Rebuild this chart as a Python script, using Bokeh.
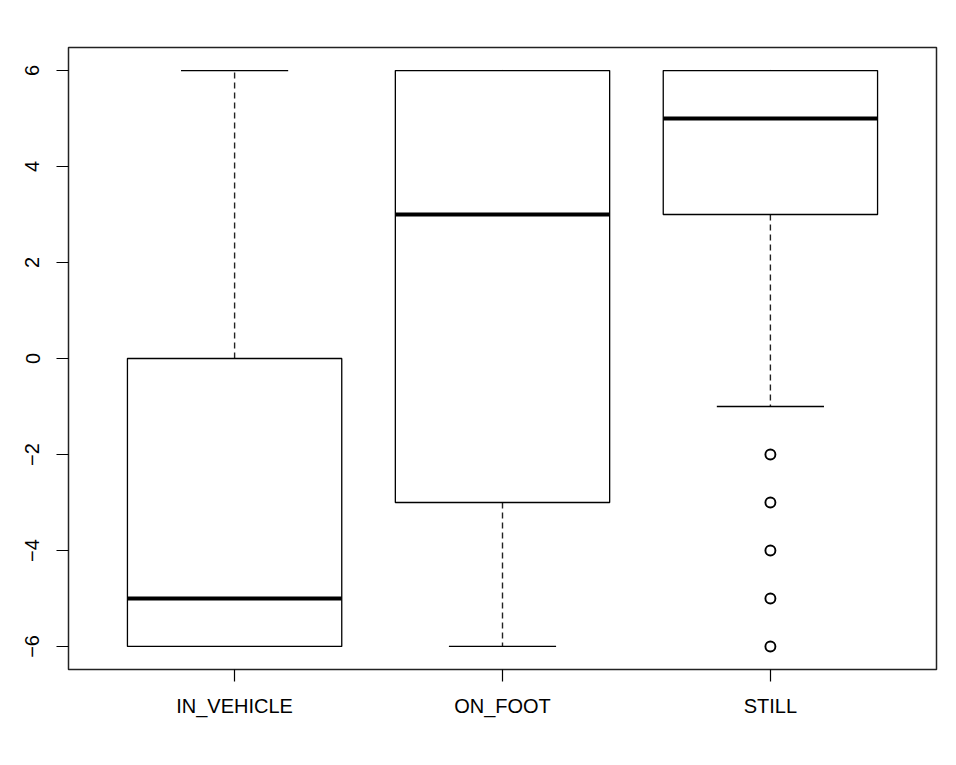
from bokeh.plotting import figure
from bokeh.models import Range1d, FixedTicker
from bokeh.embed import file_html
from bokeh.resources import INLINE

categories = ["IN_VEHICLE", "ON_FOOT", "STILL"]
lower = [-6, -6, -1]
q1 = [-6, -3, 3]
median = [-5, 3, 5]
q3 = [0, 6, 6]
upper = [6, 6, 6]
outlier_cat = ["STILL", "STILL", "STILL", "STILL", "STILL"]
outlier_values = [-2, -3, -4, -5, -6]
y_ticks = [-6, -4, -2, 0, 2, 4, 6]

pos = [i + 1 for i in range(len(categories))]
opos = [categories.index(c) + 1 for c in outlier_cat]
half_box = 0.4
half_cap = 0.2

p = figure(width=956, height=765, output_backend="svg", toolbar_location=None,
           x_range=Range1d(0.38, 3.62), y_range=Range1d(-6.48, 6.48),
           min_border_left=68, min_border_right=20, min_border_top=47, min_border_bottom=96)
p.grid.visible = False
p.background_fill_color = "white"
p.border_fill_color = "white"
p.outline_line_color = "#222222"
p.outline_line_width = 1.5

# whiskers (dashed)
p.segment(x0=pos, y0=q3, x1=pos, y1=upper, line_color="#222222", line_width=1.4, line_dash="6 4")
p.segment(x0=pos, y0=q1, x1=pos, y1=lower, line_color="#222222", line_width=1.4, line_dash="6 4")
# caps
p.segment(x0=[x - half_cap for x in pos], y0=upper, x1=[x + half_cap for x in pos], y1=upper,
          line_color="black", line_width=1.3)
p.segment(x0=[x - half_cap for x in pos], y0=lower, x1=[x + half_cap for x in pos], y1=lower,
          line_color="black", line_width=1.3)
# boxes
p.quad(left=[x - half_box for x in pos], right=[x + half_box for x in pos], bottom=q1, top=q3,
       fill_color="white", line_color="black", line_width=1.3)
# medians
p.segment(x0=[x - half_box for x in pos], y0=median, x1=[x + half_box for x in pos], y1=median,
          line_color="black", line_width=4)
# outliers
p.scatter(x=opos, y=outlier_values, marker="circle", size=10, fill_color=None,
          line_color="black", line_width=1.9)

for ax in (p.xaxis[0], p.yaxis[0]):
    ax.axis_line_color = None
    ax.major_tick_out = 12
    ax.major_tick_in = 0
    ax.major_tick_line_color = "black"
    ax.major_tick_line_width = 1.2
    ax.minor_tick_line_color = None
    ax.major_label_text_font = "Liberation Sans"
    ax.major_label_text_font_size = "20px"
    ax.major_label_text_color = "black"

p.xaxis.ticker = FixedTicker(ticks=pos)
p.xaxis.major_label_overrides = {x: c for x, c in zip(pos, categories)}
p.xaxis.major_label_standoff = 13
p.yaxis.ticker = FixedTicker(ticks=y_ticks)
p.yaxis.major_label_orientation = "vertical"
p.yaxis.major_label_standoff = 17

open("out.html", "w").write(file_html(p, INLINE))
